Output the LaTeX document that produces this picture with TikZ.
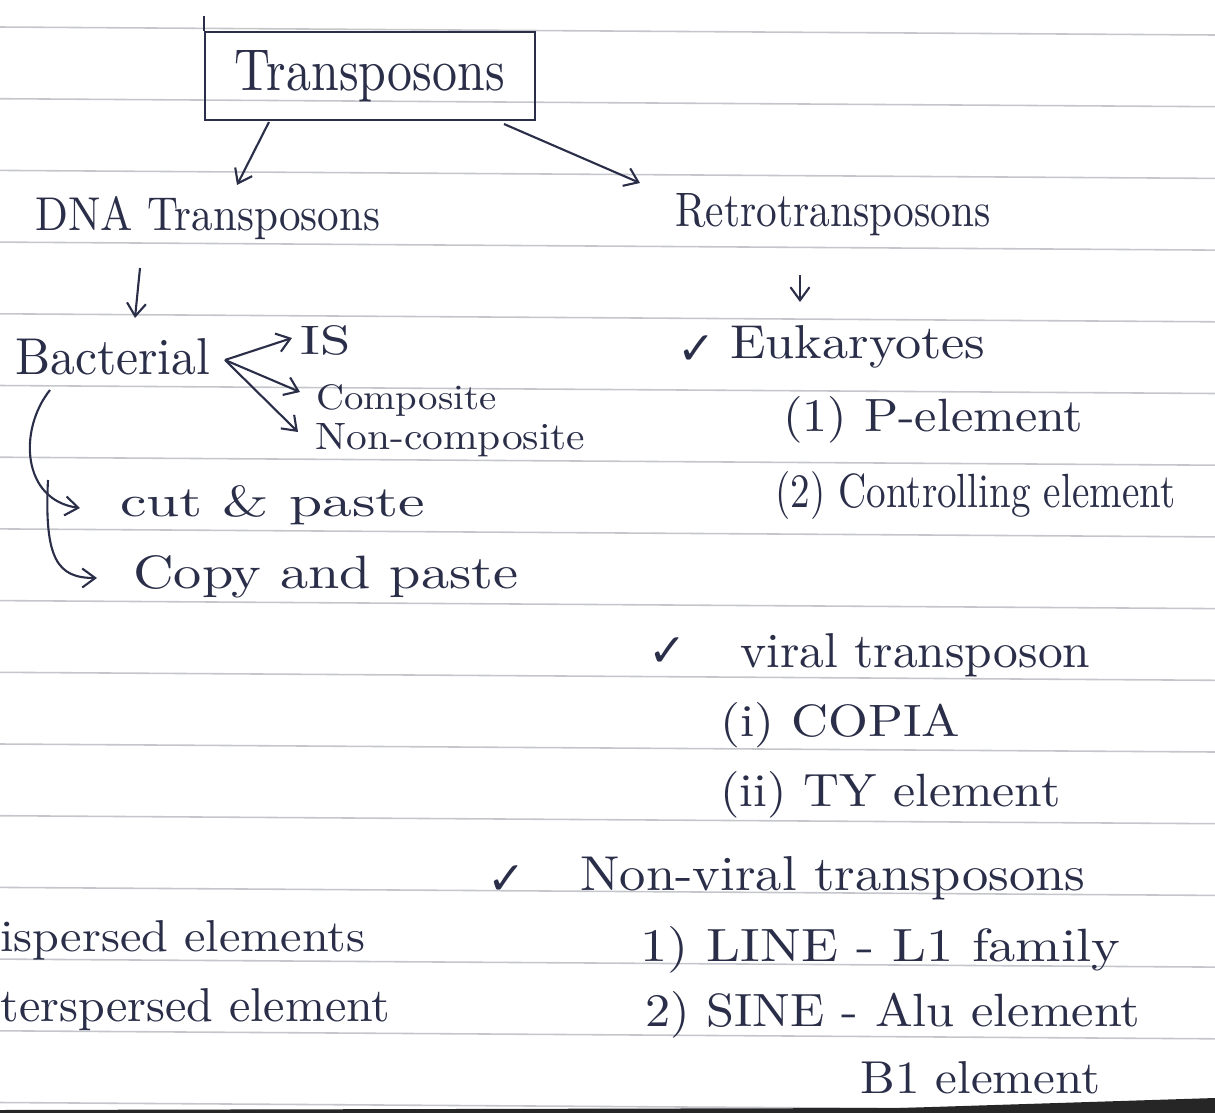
\documentclass[tikz,border=0pt]{standalone}
\usepackage{fontspec}
\newfontfamily\symfont{DejaVu Sans}
\usetikzlibrary{arrows.meta}
\definecolor{ink}{RGB}{42,46,72}
\definecolor{rulecol}{RGB}{196,198,204}
\newcommand{\fw}[3]{\resizebox{#1}{#2}{#3}}
\tikzset{
  txt/.style={anchor=west, inner sep=0pt, text=ink},
  arr/.style={draw=ink, line width=1.2pt, -{Straight Barb[length=2.6mm,width=3.8mm]}},
  pen/.style={draw=ink, line width=1.2pt},
  tickmark/.style={inner sep=0pt, text=ink, font=\symfont\fontsize{26}{28}\selectfont},
  ruled/.style={draw=rulecol, line width=0.9pt}
}
\begin{document}
\begin{tikzpicture}[x=0.02cm, y=-0.02cm]
\useasboundingbox (0,0) rectangle (1215,1113);
% ruled paper
\foreach \k in {0,...,15} {
  \draw[ruled] (0,{27+71.7*\k}) -- (1215,{35+71.7*\k});
}
\fill[black!85] (0,1110) -- (900,1108) -- (1215,1098) -- (1215,1113) -- (0,1113) -- cycle;

% title box
\node[pen, minimum width=6.6cm, minimum height=1.76cm, inner sep=0pt] (title) at (370,76) {\textcolor{ink}{\fw{5.4cm}{0.8cm}{Transposons}}};
\draw[pen] ([shift={(0,-60)}]title.west) -- (title.north west);

% left branch
\node[txt] (dna) at (35,218) {\fw{6.9cm}{0.68cm}{DNA Transposons}};
\node[txt] (bact) at (15,357) {\fw{3.9cm}{0.72cm}{Bacterial}};
\node[txt] (is) at (300,340) {\fw{1.0cm}{0.58cm}{IS}};
\node[txt] (comp) at (316,400) {\fw{3.6cm}{0.5cm}{Composite}};
\node[txt] (noncomp) at (315,440) {\fw{5.4cm}{0.52cm}{Non-composite}};
\node[txt] (cut) at (120,505) {\fw{6.1cm}{0.62cm}{cut \& paste}};
\node[txt] (copy) at (133,577) {\fw{7.7cm}{0.66cm}{Copy and paste}};
\node[txt] (ls) at (0,940) {\fw{7.3cm}{0.62cm}{ispersed elements}};
\node[txt] (ss) at (0,1010) {\fw{7.8cm}{0.66cm}{terspersed element}};

% right branch
\node[txt] (retro) at (675,215) {\fw{6.3cm}{0.66cm}{Retrotransposons}};
\node[tickmark] (t1) at (697,350) {✓};
\node[txt] (euk) at (730,347) {\fw{5.1cm}{0.66cm}{Eukaryotes}};
\node[txt] (pel) at (783,420) {\fw{6.0cm}{0.7cm}{(1) P-element}};
\node[txt] (ctl) at (775,495) {\fw{8.0cm}{0.72cm}{(2) Controlling element}};
\node[tickmark] (t2) at (668,652) {✓};
\node[txt] (viral) at (740,655) {\fw{7.0cm}{0.68cm}{viral transposon}};
\node[txt] (copia) at (720,725) {\fw{4.8cm}{0.68cm}{(i) COPIA}};
\node[txt] (ty) at (720,795) {\fw{6.8cm}{0.7cm}{(ii) TY element}};
\node[tickmark] (t3) at (507,880) {✓};
\node[txt] (nonviral) at (580,878) {\fw{10.1cm}{0.68cm}{Non-viral transposons}};
\node[txt] (line) at (640,950) {\fw{9.6cm}{0.7cm}{1) LINE - L1 family}};
\node[txt] (sine) at (645,1015) {\fw{9.9cm}{0.7cm}{2) SINE - Alu element}};
\node[txt] (b1) at (860,1078) {\fw{4.8cm}{0.64cm}{B1 element}};

% connectors
\draw[arr] ([shift={(65,46)}]title.west) -- ([shift={(202,-33)}]dna.west);
\draw[arr] ([shift={(300,48)}]title.west) -- ([shift={(-35,-32)}]retro.west);
\draw[arr] ([shift={(105,50)}]dna.west) -- ([shift={(120,-39)}]bact.west);
\draw[arr] ([shift={(125,60)}]retro.west) -- ([shift={(70,-45)}]euk.west);
\draw[arr] ([shift={(210,3)}]bact.west) -- ([shift={(-8,-2)}]is.west);
\draw[arr] ([shift={(210,3)}]bact.west) -- ([shift={(-16,-8)}]comp.west);
\draw[arr] ([shift={(210,3)}]bact.west) -- ([shift={(-17,-8)}]noncomp.west);
\draw[arr] ([shift={(35,33)}]bact.west) .. controls (18,430) and (22,500) .. ([shift={(-40,3)}]cut.west);
\draw[arr] ([shift={(-72,-25)}]cut.west) .. controls (44,560) and (58,578) .. ([shift={(-36,1)}]copy.west);
\end{tikzpicture}
\end{document}
